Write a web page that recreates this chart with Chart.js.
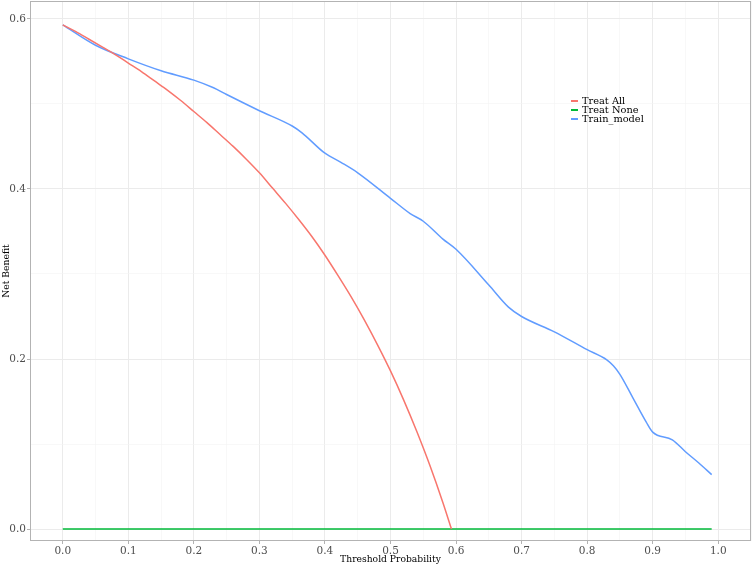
<!DOCTYPE html>
<html>
<head>
<meta charset="utf-8">
<script src="https://cdn.jsdelivr.net/npm/chart.js@4"></script>
<style>
    html, body { margin: 0; padding: 0; background: #ffffff; }
    #wrap { position: relative; width: 753px; height: 565px; }
    #legend { position: absolute; left: 571px; top: 95.5px; font-family: 'DejaVu Serif', serif; font-size: 9.8px; color: #000; }
    #legend div { height: 9px; line-height: 9px; white-space: nowrap; }
    #legend span.sw { display: inline-block; width: 7px; height: 1.5px; vertical-align: middle; margin-right: 4px; }
</style>
</head>
<body>
<div id="wrap">
    <canvas id="dcaChart" width="753" height="565"></canvas>
    <div id="legend"></div>
</div>
<script>
const seriesNames = ['Treat All', 'Treat None', 'Train_model'];
const seriesColors = ['#F8766D', '#00BA38', '#619CFF'];

const allThresholds = [0.00, 0.02, 0.04, 0.06, 0.08, 0.10, 0.12, 0.14, 0.16, 0.18, 0.20, 0.22, 0.24, 0.26, 0.28, 0.30,
    0.32, 0.34, 0.36, 0.38, 0.40, 0.42, 0.44, 0.46, 0.48, 0.50, 0.52, 0.54, 0.56, 0.58, 0.593];
const allNB = [0.593, 0.585, 0.576, 0.567, 0.558, 0.548, 0.538, 0.527, 0.516, 0.504, 0.491, 0.478, 0.464, 0.450, 0.435, 0.419,
    0.401, 0.383, 0.364, 0.344, 0.322, 0.298, 0.273, 0.246, 0.217, 0.186, 0.152, 0.115, 0.075, 0.031, 0.000];

const noneThresholds = [0.00, 0.99];
const noneNB = [0, 0];

const modelThresholds = [0.00, 0.05, 0.10, 0.15, 0.20, 0.23, 0.25, 0.30, 0.35, 0.365, 0.40, 0.425, 0.45, 0.50, 0.53, 0.55, 0.58,
    0.60, 0.65, 0.68, 0.70, 0.75, 0.80, 0.83, 0.84, 0.85, 0.87, 0.89, 0.90, 0.93, 0.95, 0.97, 0.99];
const modelNB = [0.593, 0.569, 0.553, 0.539, 0.528, 0.519, 0.511, 0.492, 0.474, 0.466, 0.442, 0.431, 0.419, 0.389, 0.371, 0.362, 0.341,
    0.329, 0.287, 0.261, 0.250, 0.232, 0.211, 0.199, 0.192, 0.182, 0.154, 0.126, 0.114, 0.105, 0.091, 0.078, 0.064];

function toPoints(xs, ys) {
    return xs.map((x, i) => ({ x: x, y: ys[i] }));
}

function isMultiple(v, step) {
    const r = v / step;
    return Math.abs(r - Math.round(r)) < 1e-6;
}

// panel border on all four sides
const panelBorder = {
    id: 'panelBorder',
    afterDraw(chart) {
        const a = chart.chartArea;
        const ctx = chart.ctx;
        ctx.save();
        ctx.strokeStyle = '#b3b3b3';
        ctx.lineWidth = 1;
        ctx.strokeRect(a.left + 0.5, a.top + 0.5, a.right - a.left - 1, a.bottom - a.top - 1);
        ctx.restore();
    }
};

const seriesData = [toPoints(allThresholds, allNB), toPoints(noneThresholds, noneNB), toPoints(modelThresholds, modelNB)];

const chartConfig = {
    type: 'line',
    data: {
        datasets: seriesNames.map((name, i) => ({
            label: name,
            data: seriesData[i],
            borderColor: seriesColors[i],
            borderWidth: 1.5,
            pointRadius: 0,
            fill: false,
            cubicInterpolationMode: 'monotone',
        })),
    },
    plugins: [panelBorder],
    options: {
        responsive: false,
        animation: false,
        layout: { padding: { top: 1, right: 2, left: 0, bottom: 0 } },
        plugins: {
            legend: { display: false },
            tooltip: { enabled: false },
        },
        scales: {
            x: {
                type: 'linear',
                min: -0.05,
                max: 1.05,
                afterFit: function (scale) {
                    scale.height = 24;
                    scale.paddingLeft = 0;
                    scale.paddingRight = 0;
                },
                border: { display: false },
                grid: {
                    color: ctx => isMultiple(ctx.tick.value, 0.1) ? '#ebebeb' : '#f4f4f4',
                    lineWidth: ctx => isMultiple(ctx.tick.value, 0.1) ? 1 : 0.6,
                    tickColor: ctx => isMultiple(ctx.tick.value, 0.1) && ctx.tick.value >= 0 && ctx.tick.value <= 1 ? '#b3b3b3' : 'rgba(0,0,0,0)',
                    tickLength: 3,
                },
                ticks: {
                    stepSize: 0.05,
                    includeBounds: false,
                    autoSkip: false,
                    maxRotation: 0,
                    padding: 1,
                    color: '#4d4d4d',
                    font: { family: 'DejaVu Serif', size: 10.5 },
                    callback: v => (isMultiple(v, 0.1) && v >= 0 && v <= 1.0001) ? v.toFixed(1) : '',
                },
                title: {
                    display: true,
                    text: 'Threshold Probability',
                    color: '#000',
                    padding: { top: -2, bottom: 0 },
                    font: { family: 'DejaVu Serif', size: 9.2 },
                },
            },
            y: {
                type: 'linear',
                min: -0.014,
                max: 0.621,
                afterFit: function (scale) {
                    scale.width = 30;
                    scale.paddingTop = 0;
                    scale.paddingBottom = 0;
                },
                border: { display: false },
                grid: {
                    color: ctx => isMultiple(ctx.tick.value, 0.2) ? '#ebebeb' : '#f4f4f4',
                    lineWidth: ctx => isMultiple(ctx.tick.value, 0.2) ? 1 : 0.6,
                    tickColor: ctx => isMultiple(ctx.tick.value, 0.2) ? '#b3b3b3' : 'rgba(0,0,0,0)',
                    tickLength: 3,
                },
                ticks: {
                    stepSize: 0.1,
                    includeBounds: false,
                    autoSkip: false,
                    padding: 1,
                    color: '#4d4d4d',
                    font: { family: 'DejaVu Serif', size: 10.5 },
                    callback: v => isMultiple(v, 0.2) ? v.toFixed(1) : '',
                },
                title: {
                    display: true,
                    text: 'Net Benefit',
                    color: '#000',
                    padding: { top: 1, bottom: 0 },
                    font: { family: 'DejaVu Serif', size: 9.2 },
                },
            },
        },
    },
};

var chart = new Chart(document.getElementById('dcaChart'), chartConfig);

// legend as html text, built from the datasets
const legendBox = document.getElementById('legend');
chart.data.datasets.forEach(ds => {
    const row = document.createElement('div');
    const sw = document.createElement('span');
    sw.className = 'sw';
    sw.style.backgroundColor = ds.borderColor;
    row.appendChild(sw);
    row.appendChild(document.createTextNode(ds.label));
    legendBox.appendChild(row);
});
</script>
</body>
</html>
